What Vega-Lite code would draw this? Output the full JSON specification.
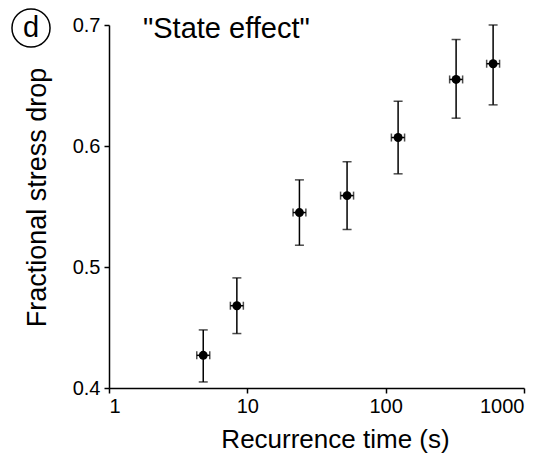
{
  "$schema": "https://vega.github.io/schema/vega-lite/v6.json",
  "width": 415,
  "height": 363,
  "autosize": {"type": "none"},
  "padding": {"left": 109, "top": 25, "right": 31, "bottom": 73},
  "background": "white",
  "config": {
    "font": "Liberation Sans",
    "view": {"stroke": null},
    "axis": {"grid": false, "domainColor": "black", "tickColor": "black", "labelColor": "black", "titleColor": "black", "labelFont": "Liberation Sans", "titleFont": "Liberation Sans", "titleFontWeight": "normal", "domainWidth": 1.5, "tickWidth": 1.5}
  },
  "datasets": {
    "pts": [
      {"t": 4.8, "tlo": 4.31, "thi": 5.35, "f": 0.427, "flo": 0.405, "fhi": 0.448},
      {"t": 8.4, "tlo": 7.54, "thi": 9.36, "f": 0.468, "flo": 0.445, "fhi": 0.491},
      {"t": 23.8, "tlo": 21.4, "thi": 26.5, "f": 0.545, "flo": 0.518, "fhi": 0.572},
      {"t": 52.6, "tlo": 47.2, "thi": 58.6, "f": 0.559, "flo": 0.531, "fhi": 0.587},
      {"t": 123, "tlo": 110, "thi": 137, "f": 0.607, "flo": 0.577, "fhi": 0.637},
      {"t": 323, "tlo": 290, "thi": 360, "f": 0.655, "flo": 0.623, "fhi": 0.688},
      {"t": 598, "tlo": 537, "thi": 666, "f": 0.668, "flo": 0.634, "fhi": 0.700}
    ],
    "label": [{"x": 0.273, "y": 0.6975, "txt": "d"}],
    "ttl": [{"x": 1.76, "y": 0.6965, "txt": "\"State effect\""}]
  },
  "layer": [
    {
      "data": {"name": "pts"},
      "mark": {"type": "rule", "color": "black", "strokeWidth": 1.5},
      "encoding": {
        "x": {"field": "t", "type": "quantitative", "scale": {"type": "log", "domain": [1, 1000]},
          "axis": {"values": [1, 10, 100, 1000], "format": "d", "title": "Recurrence time (s)", "titleFontSize": 26, "labelFontSize": 20, "tickSize": 5, "labelPadding": 3, "titlePadding": 10, "titleX": 226}},
        "y": {"field": "flo", "type": "quantitative", "scale": {"domain": [0.4, 0.7]},
          "axis": {"values": [0.4, 0.5, 0.6, 0.7], "format": ".1f", "title": "Fractional stress drop", "titleFontSize": 27, "labelFontSize": 20, "tickSize": 5, "labelPadding": 4, "titlePadding": 21, "titleY": 172}},
        "y2": {"field": "fhi"}
      }
    },
    {
      "data": {"name": "pts"},
      "mark": {"type": "tick", "orient": "horizontal", "color": "black", "size": 9, "thickness": 1.5},
      "encoding": {
        "x": {"field": "t", "type": "quantitative"},
        "y": {"field": "flo", "type": "quantitative"}
      }
    },
    {
      "data": {"name": "pts"},
      "mark": {"type": "tick", "orient": "horizontal", "color": "black", "size": 9, "thickness": 1.5},
      "encoding": {
        "x": {"field": "t", "type": "quantitative"},
        "y": {"field": "fhi", "type": "quantitative"}
      }
    },
    {
      "data": {"name": "pts"},
      "mark": {"type": "rule", "color": "black", "strokeWidth": 1.5},
      "encoding": {
        "x": {"field": "tlo", "type": "quantitative"},
        "x2": {"field": "thi"},
        "y": {"field": "f", "type": "quantitative"}
      }
    },
    {
      "data": {"name": "pts"},
      "mark": {"type": "tick", "orient": "vertical", "color": "black", "size": 8, "thickness": 1.5},
      "encoding": {
        "x": {"field": "tlo", "type": "quantitative"},
        "y": {"field": "f", "type": "quantitative"}
      }
    },
    {
      "data": {"name": "pts"},
      "mark": {"type": "tick", "orient": "vertical", "color": "black", "size": 8, "thickness": 1.5},
      "encoding": {
        "x": {"field": "thi", "type": "quantitative"},
        "y": {"field": "f", "type": "quantitative"}
      }
    },
    {
      "data": {"name": "pts"},
      "mark": {"type": "point", "shape": "circle", "filled": true, "color": "black", "size": 80, "opacity": 1},
      "encoding": {
        "x": {"field": "t", "type": "quantitative"},
        "y": {"field": "f", "type": "quantitative"}
      }
    },
    {
      "data": {"name": "label"},
      "mark": {"type": "point", "shape": "circle", "filled": false, "color": "black", "size": 1450, "strokeWidth": 1.5, "opacity": 1},
      "encoding": {
        "x": {"field": "x", "type": "quantitative"},
        "y": {"field": "y", "type": "quantitative"}
      }
    },
    {
      "data": {"name": "label"},
      "mark": {"type": "text", "fontSize": 29, "color": "black", "align": "center", "baseline": "middle", "font": "Liberation Sans"},
      "encoding": {
        "x": {"field": "x", "type": "quantitative"},
        "y": {"field": "y", "type": "quantitative"},
        "text": {"field": "txt"}
      }
    },
    {
      "data": {"name": "ttl"},
      "mark": {"type": "text", "fontSize": 29, "color": "black", "align": "left", "baseline": "middle", "font": "Liberation Sans"},
      "encoding": {
        "x": {"field": "x", "type": "quantitative"},
        "y": {"field": "y", "type": "quantitative"},
        "text": {"field": "txt"}
      }
    }
  ]
}
